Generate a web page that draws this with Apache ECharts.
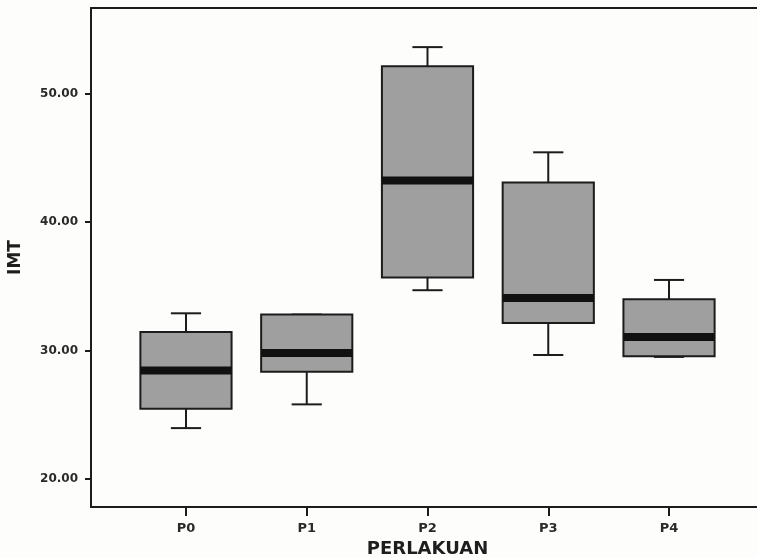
<!DOCTYPE html>
<html>
<head>
<meta charset="utf-8">
<script src="https://cdn.jsdelivr.net/npm/echarts@6/dist/echarts.min.js"></script>
<style>
  html, body { margin: 0; padding: 0; background: #fdfdfb; }
  #chart { width: 757px; height: 558px; }
</style>
</head>
<body>
<div id="chart"></div>
<script>
// 数据 (IMT per perlakuan)
var categories = ['P0', 'P1', 'P2', 'P3', 'P4'];
var lowVals  = [23.95, 25.8, 34.7, 29.65, 29.5];
var q1Vals   = [25.45, 28.35, 35.7, 32.15, 29.55];
var medVals  = [28.45, 29.8, 43.25, 34.1, 31.05];
var q3Vals   = [31.45, 32.8, 52.15, 43.1, 34.0];
var highVals = [32.9, 32.8, 53.65, 45.45, 35.5];
var yTicks   = [20, 30, 40, 50];

var yMin = 17.8, yMax = 56.7;
var ink = '#1c1c1c';

var boxData = [];
for (var i = 0; i < categories.length; i++) {
    boxData.push([i, lowVals[i], q1Vals[i], medVals[i], q3Vals[i], highVals[i]]);
}

// 箱线图 drawn by hand so the caps and the thick median look like SPSS
function renderBox(params, api) {
    var x = api.value(0);
    var low = api.coord([x, api.value(1)]);
    var q1 = api.coord([x, api.value(2)]);
    var med = api.coord([x, api.value(3)]);
    var q3 = api.coord([x, api.value(4)]);
    var high = api.coord([x, api.value(5)]);
    var band = api.size([1, 0])[0];
    var bw = band * 0.755,
        cw = band * 0.25,
        cx = low[0];
    var line = { stroke: ink, lineWidth: 2 };
    return {
        type: 'group',
        children: [
            { type: 'line', shape: { x1: cx, y1: q3[1], x2: cx, y2: high[1] }, style: line },
            { type: 'line', shape: { x1: cx, y1: q1[1], x2: cx, y2: low[1] }, style: line },
            { type: 'line', shape: { x1: cx - cw / 2, y1: high[1], x2: cx + cw / 2, y2: high[1] }, style: line },
            { type: 'line', shape: { x1: cx - cw / 2, y1: low[1], x2: cx + cw / 2, y2: low[1] }, style: line },
            {
                type: 'rect',
                shape: { x: cx - bw / 2, y: q3[1], width: bw, height: q1[1] - q3[1] },
                style: { fill: '#9f9f9f', stroke: ink, lineWidth: 2 }
            },
            {
                type: 'rect',
                shape: { x: cx - bw / 2, y: med[1] - 4, width: bw, height: 8 },
                style: { fill: '#111' }
            }
        ]
    };
}

var frameLine = { show: true, lineStyle: { color: ink, width: 2 } };

var chart = echarts.init(document.getElementById('chart'));
chart.setOption({
    backgroundColor: '#fdfdfb',
    animation: false,
    grid: [
        { left: 91, right: 0, top: 8, bottom: 51, outerBoundsMode: 'none' },
        { left: 125.6, right: 27.6, top: 8, bottom: 51, outerBoundsMode: 'none' }
    ],
    xAxis: [
        // frame: bottom and top lines
        { type: 'value', gridIndex: 0, position: 'bottom', min: 0, max: 1, axisLine: frameLine,
          axisTick: { show: false }, axisLabel: { show: false }, splitLine: { show: false } },
        { type: 'value', gridIndex: 0, position: 'top', min: 0, max: 1, axisLine: frameLine,
          axisTick: { show: false }, axisLabel: { show: false }, splitLine: { show: false } },
        {
            type: 'category',
            gridIndex: 1,
            data: categories,
            axisLine: { show: false },
            axisTick: { show: true, alignWithLabel: true, length: 9, lineStyle: { color: ink, width: 2 } },
            axisLabel: { margin: 15, color: '#2a2a2a', fontSize: 13, fontWeight: 'bold', fontFamily: 'DejaVu Sans' },
            name: 'PERLAKUAN',
            nameLocation: 'middle',
            nameGap: 31,
            nameTextStyle: { color: '#1e1e1e', fontSize: 18, fontWeight: 'bold', fontFamily: 'DejaVu Sans' }
        }
    ],
    yAxis: [
        {
            type: 'value',
            gridIndex: 0,
            min: yMin,
            max: yMax,
            axisLine: frameLine,
            splitLine: { show: false },
            axisTick: { show: true, length: 6, customValues: yTicks, lineStyle: { color: ink, width: 2 } },
            axisLabel: {
                margin: 13,
                customValues: yTicks,
                color: '#2a2a2a',
                fontSize: 12,
                fontWeight: 'bold',
                fontFamily: 'DejaVu Sans',
                formatter: function (v) { return v.toFixed(2); }
            },
            name: 'IMT',
            nameLocation: 'middle',
            nameRotate: 90,
            nameGap: 67,
            nameTextStyle: { color: '#1e1e1e', fontSize: 17, fontWeight: 'bold', fontFamily: 'DejaVu Sans' }
        },
        { type: 'value', gridIndex: 1, min: yMin, max: yMax, show: false, splitLine: { show: false } }
    ],
    series: [{
        type: 'custom',
        xAxisIndex: 2,
        yAxisIndex: 1,
        renderItem: renderBox,
        encode: { x: 0, y: [1, 2, 3, 4, 5] },
        data: boxData
    }]
});
</script>
</body>
</html>
